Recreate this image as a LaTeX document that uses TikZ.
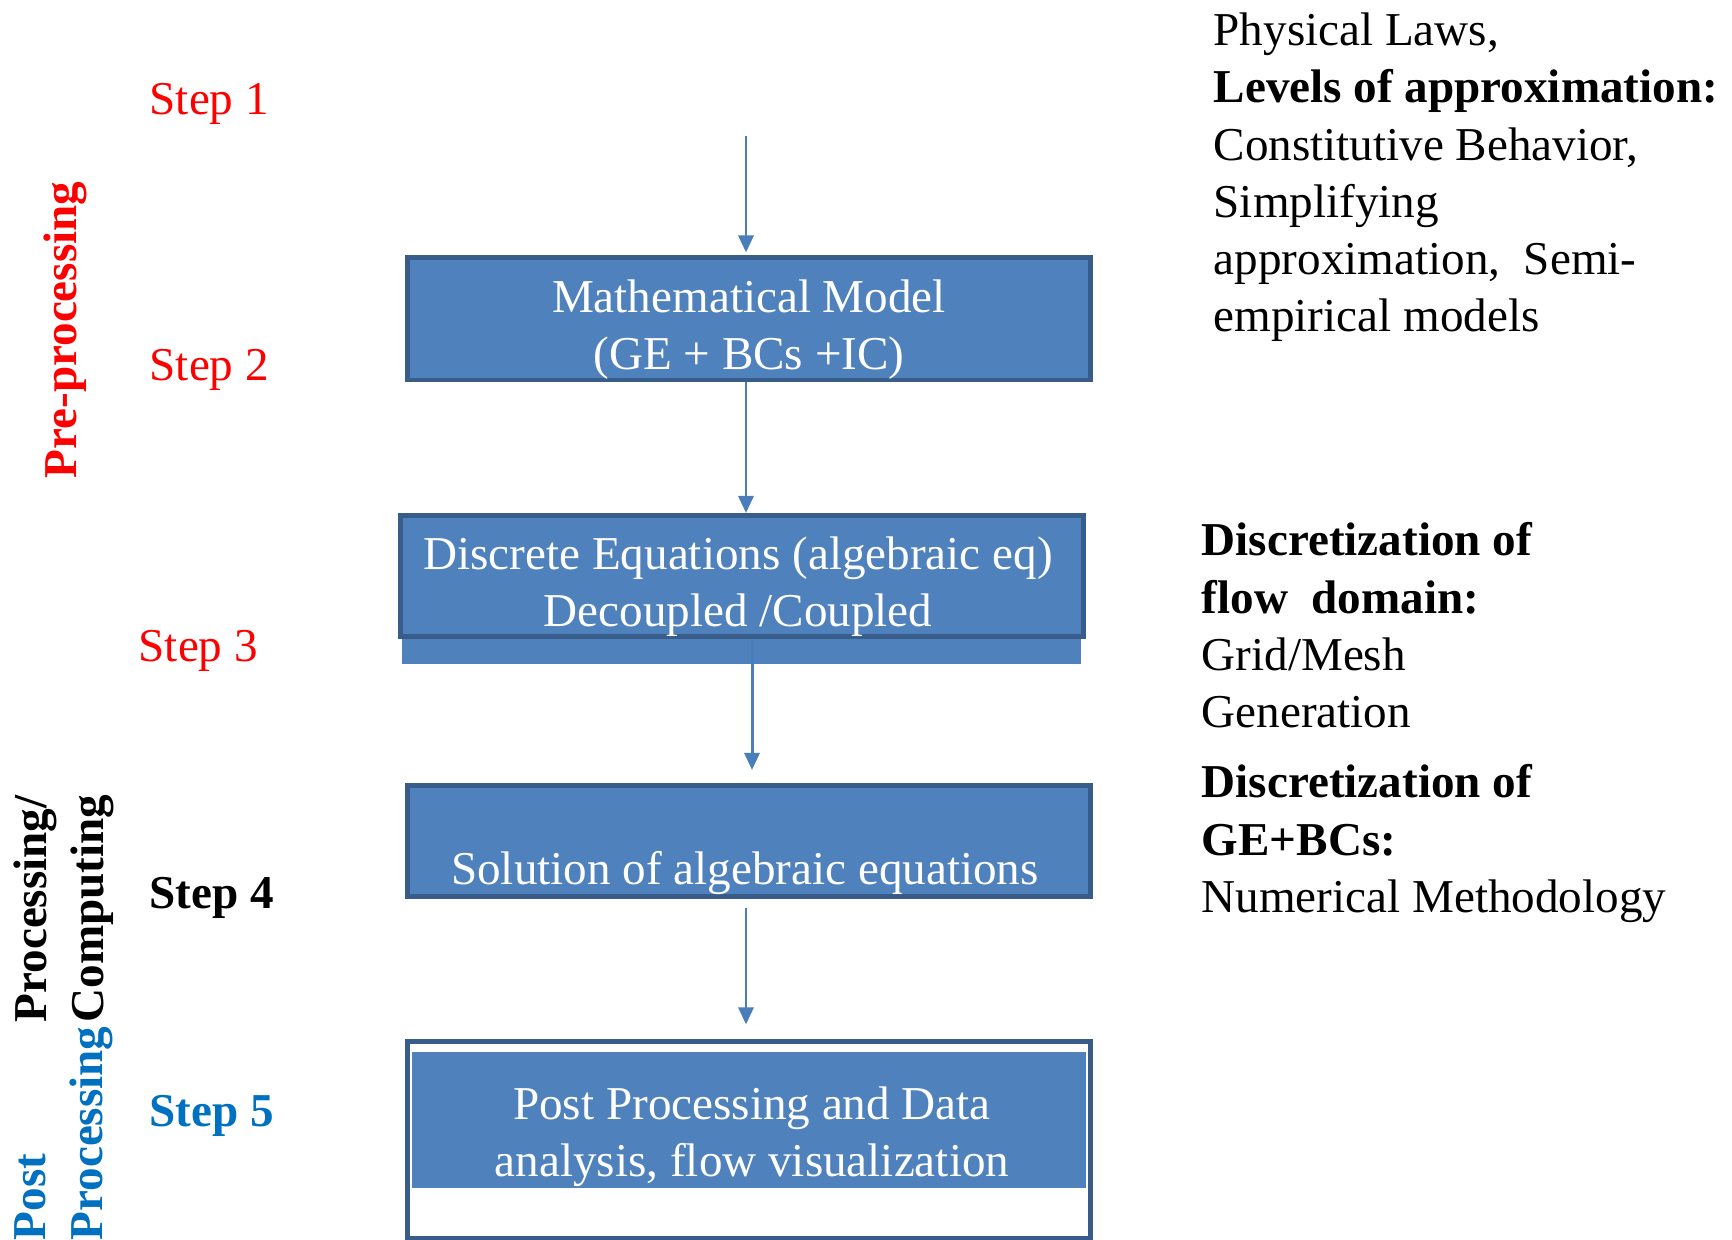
\documentclass[tikz,border=0pt]{standalone}
\usepackage{fontspec}
\setmainfont{Liberation Serif}
\usetikzlibrary{arrows.meta,positioning}
\definecolor{boxblue}{HTML}{4F81BD}
\definecolor{boxedge}{HTML}{385D8A}
\definecolor{flowblue}{HTML}{4A7EBB}
\definecolor{postblue}{HTML}{0070C0}
\definecolor{prered}{HTML}{FF0000}

\begin{document}
\begin{tikzpicture}[x=0.01cm,y=-0.01cm,font=\fontsize{13.4}{16.3}\selectfont,
    stage/.style={draw=boxedge,line width=1.4pt,fill=boxblue,minimum width=6.82cm,inner sep=0pt},
    stagetxt/.style={text=white,align=center,inner sep=0pt},
    steplbl/.style={anchor=west,inner sep=0pt},
    phase/.style={rotate=90,anchor=west,align=left,inner sep=0pt,font=\fontsize{13.4}{16.3}\selectfont\bfseries},
    note/.style={anchor=north west,align=left,inner sep=0pt},
    flow/.style={draw=flowblue,line width=0.85pt,-{Triangle[length=1.7mm,width=1.5mm]}}]
  \useasboundingbox (0,0) rectangle (1732,1240);

  % phases down the left margin
  \node[phase,text=prered] (pre) at (65,479) {Pre-processing};
  \node[phase] (proc) at (64,1023) {Processing/\\Computing};
  \node[phase,text=postblue] (post) at (64,1241) {Post\\Processing};

  % step numbers
  \node[steplbl,text=prered] (s1) at (149,104) {Step 1};
  \node[steplbl,text=prered] (s2) at (149,370) {Step 2};
  \node[steplbl,text=prered] (s3) at (138,651) {Step 3};
  \node[steplbl] (s4) at (149,898) {\textbf{Step 4}};
  \node[steplbl,text=postblue] (s5) at (149,1116) {\textbf{Step 5}};

  % the chain of stages
  \node[stage,minimum height=1.22cm] (mm) at (749,319) {};
  \node[stagetxt] (mmtxt) at (749,330) {Mathematical Model\\(GE + BCs +IC)};
  \fill[boxblue] (402,630) rectangle (1081,664);
  \node[stage,minimum height=1.21cm] (de) at (742,576) {};
  \node[stagetxt] (detxt) at (738,587) {Discrete Equations (algebraic eq)\\Decoupled /Coupled};
  \node[stage,minimum height=1.11cm] (sol) at (749,841) {};
  \node[stagetxt] (soltxt) at (745,873) {Solution of algebraic equations};
  \node[stage,fill=white,minimum height=1.96cm] (pp) at (749,1140) {};
  \fill[boxblue] (412,1052) rectangle (1086,1188);
  \node[stagetxt] (pptxt) at (752,1137) {Post Processing and Data\\analysis, flow visualization};

  \coordinate (src) at (746,136);
  \draw[flow,shorten >=0.3mm] (src) -- (src |- mm.north);
  \draw[flow] ([xshift=-0.3mm]mm.south) -- ([xshift=-0.3mm]mm.south |- de.north);
  \draw[flow,shorten >=1.3mm] ([xshift=1mm]de.south) -- ([xshift=1mm]de.south |- sol.north);
  \draw[flow,shorten <=0.9mm,shorten >=1.5mm] ([xshift=-0.3mm]sol.south) -- ([xshift=-0.3mm]sol.south |- pp.north);

  % notes on the right
  \node[note] (laws) at (1213,12) {Physical Laws,\\\textbf{Levels of approximation:}\\Constitutive Behavior,\\Simplifying\\approximation,\ \ Semi-\\empirical models};
  \node[note] (grid) at (1201,522) {\textbf{Discretization of}\\\textbf{flow\ \ domain:}\\Grid/Mesh\\Generation};
  \node[note] (numer) at (1201,764) {\textbf{Discretization of}\\\textbf{GE+BCs:}\\Numerical Methodology};
\end{tikzpicture}
\end{document}
